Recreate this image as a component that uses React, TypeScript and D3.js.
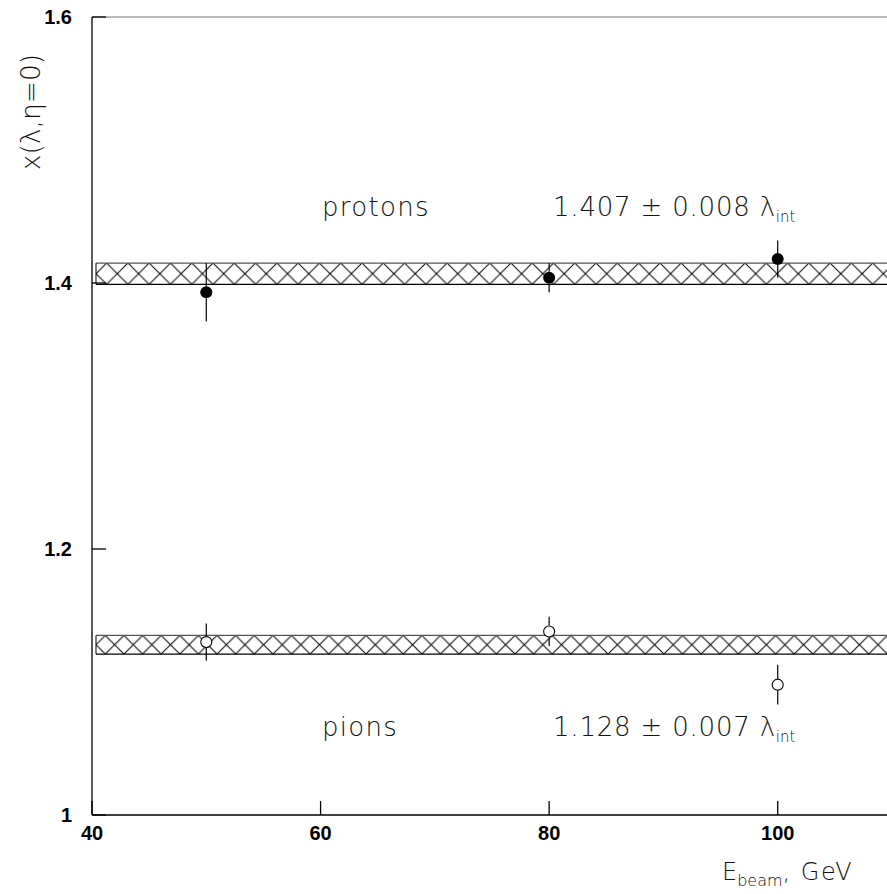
import React from 'react';
import * as d3 from 'd3';

// beam energies (GeV)
const energies = [50, 80, 100];
// measured x(lambda, eta=0) and errors
const protonValues = [1.393, 1.404, 1.418];
const protonErrors = [0.022, 0.011, 0.014];
const pionValues = [1.130, 1.138, 1.098];
const pionErrors = [0.014, 0.011, 0.015];

// fitted averages: [mean, error]
const protonFit = [1.407, 0.008];
const pionFit = [1.128, 0.007];
const bandStart = 40.35;

const xTicks = [40, 60, 80, 100];
const yTicks = [1, 1.2, 1.4, 1.6];

const width = 887;
const height = 894;
const margin = { top: 17, right: -5, bottom: 79, left: 92 };

const thinFont = '"DejaVu Sans", sans-serif';
const boldFont = '"Liberation Sans", Arial, sans-serif';

const App = () => {
    const x = d3.scaleLinear()
        .domain([40, 110])
        .range([margin.left, width - margin.right]);
    const y = d3.scaleLinear()
        .domain([1, 1.6])
        .range([height - margin.bottom, margin.top]);

    const x0 = x(40);
    const y0 = y(1);
    const yTop = y(1.6);

    const bands = [
        { id: 'hatchP', fit: protonFit },
        { id: 'hatchK', fit: pionFit },
    ];

    const series = [
        { values: protonValues, errors: protonErrors, filled: true },
        { values: pionValues, errors: pionErrors, filled: false },
    ];

    const fmtY = (d: number) => (d === 1 ? '1' : d3.format('.1f')(d));

    return (
        <svg width={width} height={height} style={{ display: 'block', position: 'absolute', left: 0, top: 0, background: '#fff' }}>
            <defs>
                {bands.map(b => {
                    const h = y(b.fit[0] - b.fit[1]) - y(b.fit[0] + b.fit[1]);
                    return (
                        <pattern key={b.id} id={b.id} patternUnits="userSpaceOnUse" width={h} height={h}
                            x={x(bandStart) - h / 2} y={y(b.fit[0] + b.fit[1])}>
                            <path d={`M0,0L${h},${h}M0,${h}L${h},0`} stroke="#000" strokeWidth={1} fill="none" />
                        </pattern>
                    );
                })}
                <clipPath id="plotClip">
                    <rect x={x0} y={yTop} width={width - x0} height={y0 - yTop} />
                </clipPath>
            </defs>

            {/* hatched fit bands */}
            <g clipPath="url(#plotClip)">
                {bands.map(b => {
                    const top = y(b.fit[0] + b.fit[1]);
                    const bot = y(b.fit[0] - b.fit[1]);
                    return (
                        <g key={b.id}>
                            <rect x={x(bandStart)} y={top} width={x(110) - x(bandStart) + 2} height={bot - top}
                                fill={`url(#${b.id})`} />
                            <line x1={x(bandStart)} x2={width} y1={top} y2={top} stroke="#555" strokeWidth={1.2} />
                            <line x1={x(bandStart)} x2={width} y1={bot} y2={bot} stroke="#000" strokeWidth={1.2} />
                            <line x1={x(bandStart)} x2={x(bandStart)} y1={top} y2={bot} stroke="#000" strokeWidth={1} />
                        </g>
                    );
                })}
            </g>

            {/* frame */}
            <line x1={x0} x2={width} y1={yTop} y2={yTop} stroke="#777" strokeWidth={1.2} />
            <line x1={x0} x2={x0} y1={yTop} y2={y0} stroke="#000" strokeWidth={1.3} />
            <line x1={x0} x2={width} y1={y0} y2={y0} stroke="#000" strokeWidth={1.3} />

            {/* ticks */}
            {yTicks.map(t => (
                <g key={`yt${t}`}>
                    <line x1={x0} x2={x0 + 14} y1={y(t)} y2={y(t)} stroke="#000" strokeWidth={1.3} />
                    <text x={72} y={y(t)} dy="0.36em" textAnchor="end" fontFamily={boldFont}
                        fontWeight="bold" fontSize={20}>{fmtY(t)}</text>
                </g>
            ))}
            {xTicks.map(t => (
                <g key={`xt${t}`}>
                    <line x1={x(t)} x2={x(t)} y1={y0} y2={y0 - 14} stroke="#000" strokeWidth={1.3} />
                    <text x={x(t)} y={840} textAnchor="middle" fontFamily={boldFont}
                        fontWeight="bold" fontSize={20}>{t}</text>
                </g>
            ))}

            {/* data points */}
            {series.map((s, si) => (
                <g key={`s${si}`}>
                    {energies.map((e, i) => {
                        const cx = x(e);
                        const cy = y(s.values[i]);
                        const r = 6;
                        return (
                            <g key={e}>
                                <line x1={cx} x2={cx} y1={y(s.values[i] + s.errors[i])} y2={cy - r}
                                    stroke="#000" strokeWidth={1.2} />
                                <line x1={cx} x2={cx} y1={cy + r} y2={y(s.values[i] - s.errors[i])}
                                    stroke="#000" strokeWidth={1.2} />
                                <circle cx={cx} cy={cy} r={s.filled ? r : r - 0.5}
                                    fill={s.filled ? '#000' : '#fff'} stroke="#000" strokeWidth={s.filled ? 0 : 1.1} />
                            </g>
                        );
                    })}
                </g>
            ))}

            {/* annotations */}
            <g fontFamily={thinFont} fontWeight={200} fill="#111">
                <text x={322} y={216} fontSize={26} letterSpacing={1.3}>protons</text>
                <text x={553} y={216} fontSize={26} letterSpacing={0.8}>
                    {`${protonFit[0].toFixed(3)} ± ${protonFit[1].toFixed(3)} λ`}
                    <tspan fontSize={15} dy={6} letterSpacing={0}>int</tspan>
                </text>
                <text x={322} y={736} fontSize={26} letterSpacing={1.3}>pions</text>
                <text x={553} y={736} fontSize={26} letterSpacing={0.8}>
                    {`${pionFit[0].toFixed(3)} ± ${pionFit[1].toFixed(3)} λ`}
                    <tspan fontSize={15} dy={6} letterSpacing={0}>int</tspan>
                </text>

                <text transform="translate(40,112) rotate(-90)" textAnchor="middle" fontSize={26.5}>
                    x(λ,η=0)
                </text>

                <text x={722} y={880} fontSize={24}>
                    E
                    <tspan fontSize={16} dy={6}>beam</tspan>
                    <tspan dy={-6} letterSpacing={1.5}>, GeV</tspan>
                </text>
            </g>
        </svg>
    );
};

export default App;
